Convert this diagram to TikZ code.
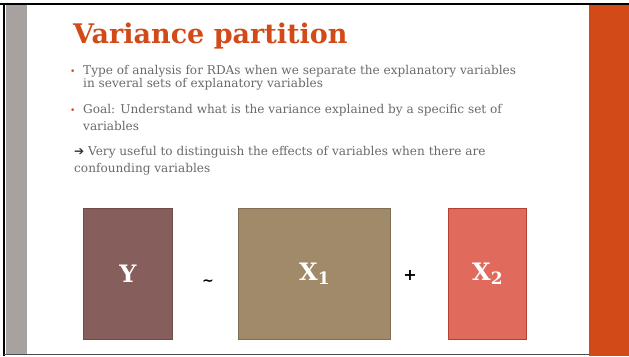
\documentclass[tikz,border=0pt]{standalone}
\usepackage{fontspec}
\setmainfont{DejaVu Serif}
\newfontfamily\symfont{DejaVu Sans}
\definecolor{accent}{HTML}{D24A17}
\definecolor{sidegray}{HTML}{A7A2A0}
\definecolor{bodytext}{HTML}{6A6A6A}
\definecolor{yfill}{HTML}{865E5C}
\definecolor{ydraw}{HTML}{6E4C4A}
\definecolor{xafill}{HTML}{A08A6A}
\definecolor{xadraw}{HTML}{7F6E53}
\definecolor{xbfill}{HTML}{E06B5D}
\definecolor{xbdraw}{HTML}{B8402F}
\tikzset{
  matbox/.style={draw, line width=1pt, inner sep=0pt, font=\bfseries\fontsize{24}{24}\selectfont, text=white},
  bodyline/.style={anchor=base west, inner sep=0pt, text=bodytext, font=\fontsize{12.1}{13}\selectfont},
  bulletmark/.style={anchor=base west, inner sep=0pt, text=accent, font=\fontsize{9}{9}\selectfont},
  opsign/.style={inner sep=0pt, text=black}
}
\begin{document}
\begin{tikzpicture}[x=1pt,y=-1pt]
\useasboundingbox (0,0) rectangle (629,356);
% slide frame and side bars
\fill[white] (0,0) rectangle (629,356);
\fill[sidegray] (6,5) rectangle (27,355);
\fill[accent] (589,5) rectangle (629,356);
\draw[line width=2.5pt] (0,4) -- (629,4);
\draw[line width=2pt] (4,4) -- (4,356);
\draw[line width=1.2pt, black!70] (4,354.6) -- (589,354.6);
% title
\node[anchor=base west, inner sep=0pt, text=accent, font=\bfseries\fontsize{27}{27}\selectfont] (title) at (73,43) {Variance partition};
% bullet points
\node[bulletmark] (b1) at (70,74.5) {\textbullet};
\node[bodyline] (l1) at (83,74.5) {Type of analysis for RDAs when we separate the explanatory variables};
\node[bodyline] (l2) at (83,87.5) {in several sets of explanatory variables};
\node[bulletmark] (b2) at (70,113) {\textbullet};
\node[bodyline] (l3) at (83,113) {Goal: Understand what is the variance explained by a specific set of};
\node[bodyline] (l4) at (83,130) {variables};
\node[bodyline] (l5) at (74,155.5) {{\symfont\color{black!80}➔} Very useful to distinguish the effects of variables when there are};
\node[bodyline] (l6) at (74,172) {confounding variables};
% the partition boxes
\node[matbox, fill=yfill, draw=ydraw, minimum width=89pt, minimum height=131pt] (Y) at (128,273.8) {Y};
\node[matbox, fill=xafill, draw=xadraw, minimum width=152.5pt, minimum height=131pt] (X1) at (314.6,273.8) {X\textsubscript{\fontsize{17}{17}\selectfont 1}};
\node[matbox, fill=xbfill, draw=xbdraw, minimum width=78.5pt, minimum height=131pt] (X2) at (487.6,273.8) {X\textsubscript{\fontsize{17}{17}\selectfont 2}};
\node[opsign, font=\bfseries\fontsize{14}{14}\selectfont] (tilde) at (208,283) {\symfont\char"223C};
\node[opsign, font=\symfont\bfseries\fontsize{16}{16}\selectfont] (plus) at (410,275.5) {+};
\end{tikzpicture}
\end{document}
